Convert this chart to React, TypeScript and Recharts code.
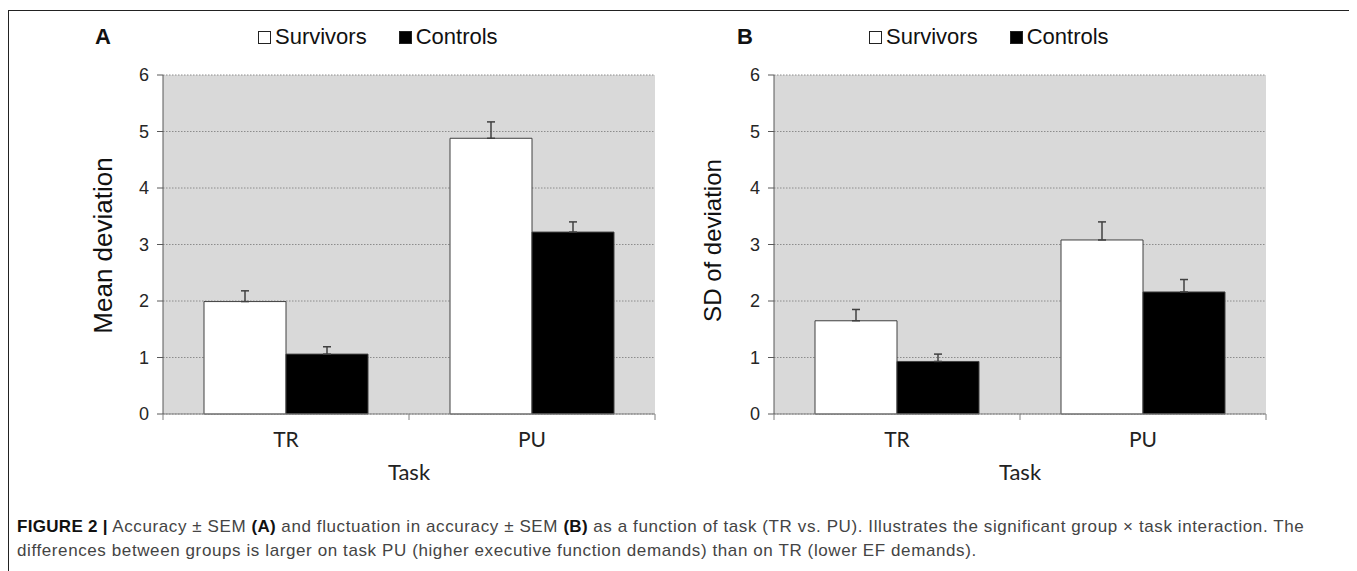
import React from 'react'
import { BarChart, Bar, XAxis, YAxis, CartesianGrid, Legend, ErrorBar } from 'recharts'

const tasks = ['TR', 'PU']
const groups = ['Survivors', 'Controls']
const yTicks = [0, 1, 2, 3, 4, 5, 6]

// panel A: mean deviation
const meanSurvivors = [1.99, 4.88]
const meanSurvivorsSem = [0.19, 0.29]
const meanControls = [1.06, 3.22]
const meanControlsSem = [0.13, 0.18]

// panel B: SD of deviation
const sdSurvivors = [1.65, 3.08]
const sdSurvivorsSem = [0.2, 0.32]
const sdControls = [0.93, 2.16]
const sdControlsSem = [0.13, 0.22]

const ARIAL = '"Liberation Sans", Arial, sans-serif'
const CALIBRI = 'Lato, "Open Sans", sans-serif'

function buildRows(surv: number[], survSem: number[], ctrl: number[], ctrlSem: number[]) {
  return tasks.map((task, i) => ({
    task,
    survivors: surv[i],
    survivorsErr: [0, survSem[i]],
    controls: ctrl[i],
    controlsErr: [0, ctrlSem[i]],
  }))
}

function SquareLegend({ payload }: any) {
  // keep the series order, not the alphabetical one
  const items = [...(payload ?? [])].sort((a: any, b: any) => groups.indexOf(a.value) - groups.indexOf(b.value))
  return (
    <div style={{ display: 'flex', alignItems: 'center', height: 30, fontFamily: ARIAL, fontSize: 22, color: '#111' }}>
      {items.map((p: any, i: number) => (
        <span key={p.value} style={{ display: 'flex', alignItems: 'center', marginLeft: i ? 32 : 0 }}>
          <span style={{ display: 'inline-block', width: 11, height: 11, background: p.color, border: '1px solid #222', marginRight: 4 }} />
          {p.value}
        </span>
      ))}
    </div>
  )
}

function TaskTick(props: any) {
  const { x, y, payload, index } = props
  const half = payload?.offset || 123
  return (
    <g>
      {index === 0 && <line x1={x - half} y1={y} x2={x - half} y2={y + 6} stroke="#808080" />}
      <line x1={x + half} y1={y} x2={x + half} y2={y + 6} stroke="#808080" />
      <text x={x} y={y + 33} textAnchor="middle" fontFamily={CALIBRI} fontSize={21} fill="#222">
        {payload.value}
      </text>
    </g>
  )
}

interface PanelProps {
  rows: any[]
  yLabel: string
  labelSize: number
  labelX: number
  labelShift: number
}

function Panel({ rows, yLabel, labelSize, labelX, labelShift }: PanelProps) {
  return (
    <BarChart
      width={600}
      height={476}
      data={rows}
      margin={{ top: 27, right: 5, left: 0, bottom: 0 }}
      barCategoryGap={41}
      barGap={0}
    >
      <CartesianGrid vertical={false} fill="#d9d9d9" stroke="#8c8c8c" strokeDasharray="1.5 1.5" />
      <Legend
        verticalAlign="top"
        align="left"
        content={<SquareLegend />}
        wrapperStyle={{ top: 4, left: 198, width: 'auto' }}
      />
      <XAxis
        dataKey="task"
        height={80}
        stroke="#808080"
        tickLine={false}
        tickSize={0}
        tickMargin={0}
        tick={<TaskTick />}
        label={{
          content: ({ viewBox }: any) => (
            <text
              x={viewBox.x + viewBox.width / 2}
              y={viewBox.y + 66}
              textAnchor="middle"
              fontFamily={CALIBRI}
              fontSize={22}
              fill="#222"
            >
              Task
            </text>
          ),
        }}
      />
      <YAxis
        width={103}
        domain={[0, 6]}
        ticks={yTicks}
        interval={0}
        stroke="#595959"
        tickSize={6}
        tickMargin={8}
        tick={{ fontFamily: ARIAL, fontSize: 18, fill: '#262626' }}
        label={{
          content: ({ viewBox }: any) => {
            const cx = viewBox.x + labelX
            const cy = viewBox.y + viewBox.height / 2 + labelShift
            return (
              <text
                x={cx}
                y={cy}
                transform={`rotate(-90 ${cx} ${cy})`}
                textAnchor="middle"
                dominantBaseline="central"
                fontFamily={ARIAL}
                fontSize={labelSize}
                fill="#111"
              >
                {yLabel}
              </text>
            )
          },
        }}
      />
      <Bar dataKey="survivors" name={groups[0]} fill="#ffffff" stroke="#404040" strokeWidth={1} isAnimationActive={false}>
        <ErrorBar dataKey="survivorsErr" direction="y" width={4} stroke="#404040" strokeWidth={1.5} />
      </Bar>
      <Bar dataKey="controls" name={groups[1]} fill="#000000" stroke="#404040" strokeWidth={1} isAnimationActive={false}>
        <ErrorBar dataKey="controlsErr" direction="y" width={4} stroke="#404040" strokeWidth={1.5} />
      </Bar>
    </BarChart>
  )
}

export default function App() {
  const rowsA = buildRows(meanSurvivors, meanSurvivorsSem, meanControls, meanControlsSem)
  const rowsB = buildRows(sdSurvivors, sdSurvivorsSem, sdControls, sdControlsSem)
  const letter: React.CSSProperties = {
    position: 'absolute',
    fontFamily: ARIAL,
    fontWeight: 'bold',
    fontSize: 22,
    color: '#111',
  }
  const caption: React.CSSProperties = {
    position: 'absolute',
    left: 9,
    fontFamily: ARIAL,
    fontSize: 17,
    letterSpacing: 0.6,
    lineHeight: '24px',
    color: '#444',
    whiteSpace: 'nowrap',
  }
  const bold: React.CSSProperties = { color: '#111', letterSpacing: 0.3 }
  return (
    <div style={{ position: 'relative', width: 1349, height: 563, overflow: 'hidden', background: '#fff' }}>
      <div
        style={{
          position: 'absolute',
          left: 0,
          top: 2,
          width: 1345,
          height: 620,
          borderTop: '1.5px solid #222',
          borderLeft: '1.5px solid #222',
          borderRight: '2px solid #888',
        }}
      />
      <div style={{ ...letter, left: 87, top: 16 }}>A</div>
      <div style={{ ...letter, left: 729, top: 16 }}>B</div>
      <div style={{ position: 'absolute', left: 52, top: 10 }}>
        <Panel rows={rowsA} yLabel="Mean deviation" labelSize={26} labelX={43} labelShift={1} />
      </div>
      <div style={{ position: 'absolute', left: 663, top: 10 }}>
        <Panel rows={rowsB} yLabel="SD of deviation" labelSize={24} labelX={41} labelShift={-4} />
      </div>
      <div style={{ ...caption, top: 507 }}>
        <b style={bold}>FIGURE 2 |</b> Accuracy ± SEM <b style={bold}>(A)</b> and fluctuation in accuracy ± SEM{' '}
        <b style={bold}>(B)</b> as a function of task (TR vs. PU). Illustrates the significant group × task interaction.
        The
      </div>
      <div style={{ ...caption, top: 531 }}>
        differences between groups is larger on task PU (higher executive function demands) than on TR (lower EF
        demands).
      </div>
    </div>
  )
}
